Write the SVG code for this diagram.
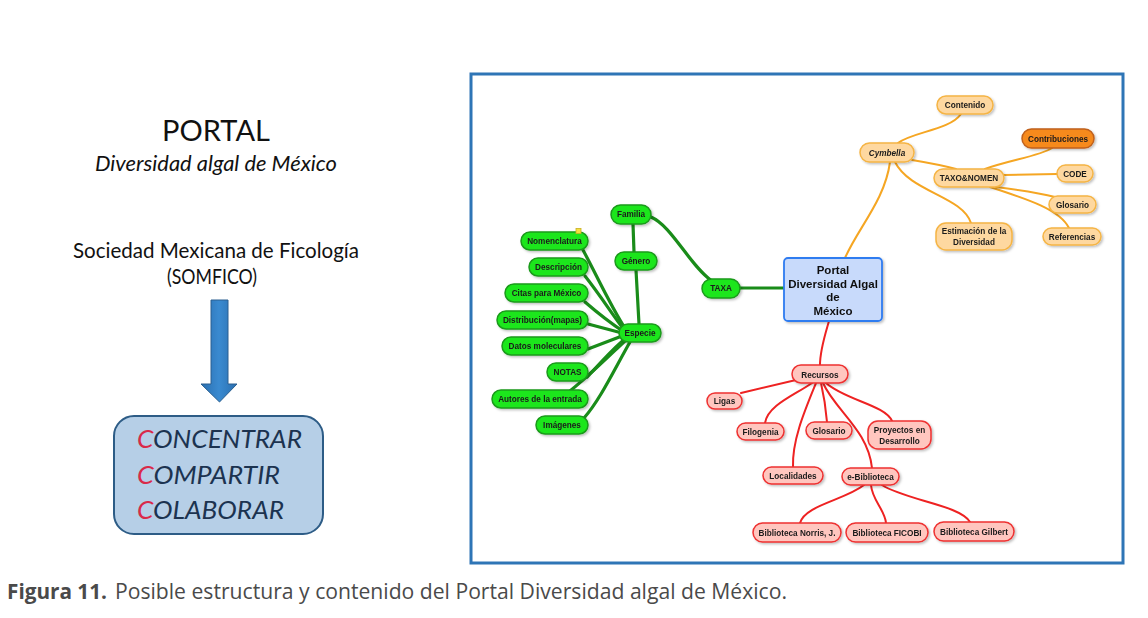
<svg xmlns="http://www.w3.org/2000/svg" width="1148" height="618" viewBox="0 0 1148 618">
<defs>
<filter id="sh" x="-20%" y="-30%" width="140%" height="170%">
<feDropShadow dx="1.5" dy="1.5" stdDeviation="1" flood-color="#000" flood-opacity="0.25"/>
</filter>
<linearGradient id="arrowG" x1="0" y1="0" x2="1" y2="0">
<stop offset="0" stop-color="#2a6fb0"/><stop offset="0.5" stop-color="#3a8ad0"/><stop offset="1" stop-color="#2a6fb0"/>
</linearGradient>
</defs>
<style>
.g rect{fill:#1ee61e;stroke:#1a9a1a;stroke-width:1.5}
.o rect{fill:#fed8a0;stroke:#f5b444;stroke-width:1.5}
.r rect{fill:#ffc6bf;stroke:#ee3030;stroke-width:1.5}
.nt{font-family:"Liberation Sans",Arial,sans-serif;font-weight:bold;font-size:8.2px;fill:#1a1a1a;text-anchor:middle}
.lg{fill:none;stroke:#1a8c1a;stroke-width:3.2;stroke-linecap:round}
.lo{fill:none;stroke:#f5a623;stroke-width:2;stroke-linecap:round}
.lr{fill:none;stroke:#ee2222;stroke-width:2;stroke-linecap:round}
.lt{font-family:Lato,"Liberation Sans",sans-serif;fill:#111;text-anchor:middle}
.cc{font-family:Lato,"Liberation Sans",sans-serif;font-style:italic;font-size:25px;fill:#1c3350}
.red{fill:#d92a4a}
</style>
<rect width="1148" height="618" fill="#fff"/>

<!-- Left column -->
<g id="title">
<text class="lt" x="216" y="141" font-size="28" textLength="108" lengthAdjust="spacingAndGlyphs">PORTAL</text>
<text class="lt" x="216" y="171" font-size="21" font-style="italic" textLength="242" lengthAdjust="spacingAndGlyphs">Diversidad algal de México</text>
<text class="lt" x="216" y="258" font-size="21" textLength="286" lengthAdjust="spacingAndGlyphs">Sociedad Mexicana de Ficología</text>
<text class="lt" x="212" y="284" font-size="21" textLength="90" lengthAdjust="spacingAndGlyphs">(SOMFICO)</text>
</g>
<g id="arrow">
<path d="M211 300 L228 300 L228 384 L237 384 L219.5 402 L201 384 L211 384 Z" fill="url(#arrowG)" stroke="#2a5f90" stroke-width="1"/>
</g>
<g id="box">
<rect x="114" y="416" width="209" height="118" rx="20" fill="#b6cfe7" stroke="#2d5c86" stroke-width="2"/>
<text class="cc" x="137" y="448" textLength="165" lengthAdjust="spacingAndGlyphs"><tspan class="red">C</tspan>ONCENTRAR</text>
<text class="cc" x="137" y="484" textLength="143" lengthAdjust="spacingAndGlyphs"><tspan class="red">C</tspan>OMPARTIR</text>
<text class="cc" x="137" y="519" textLength="147" lengthAdjust="spacingAndGlyphs"><tspan class="red">C</tspan>OLABORAR</text>
</g>

<!-- Frame -->
<rect x="471" y="74" width="652" height="489" fill="none" stroke="#2e75b6" stroke-width="3"/>

<!-- Connectors -->
<g id="connectors">
<path class="lg" d="M583 250 C595 272 610 305 626 330"/>
<path class="lg" d="M585 276 C600 295 612 314 625 331"/>
<path class="lg" d="M585 302 C600 315 612 324 624 332"/>
<path class="lg" d="M588 324 L622 333"/>
<path class="lg" d="M588 349 L622 336"/>
<path class="lg" d="M587 377 C602 362 613 348 625 339"/>
<path class="lg" d="M570 391 C590 375 610 355 626 340"/>
<path class="lg" d="M584 418 C600 400 614 370 630 342"/>
<path class="lg" d="M633 224 L634 252"/>
<path class="lg" d="M636 270 L639 324"/>
<path class="lg" d="M651 217 C672 226 690 266 712 281"/>
<path class="lg" d="M740 288 L784 288"/>

<path class="lo" d="M890 162 C885 200 858 228 845 258"/>
<path class="lo" d="M961 114 C950 130 912 132 898 143"/>
<path class="lo" d="M912 160 C930 163 945 166 956 169"/>
<path class="lo" d="M895 162 C910 192 962 196 971 223"/>
<path class="lo" d="M985 169 C1010 160 1040 156 1052 148"/>
<path class="lo" d="M1004 175 L1057 174"/>
<path class="lo" d="M996 187 C1020 190 1040 193 1055 197"/>
<path class="lo" d="M990 187 C1030 200 1060 210 1069 228"/>

<path class="lr" d="M829 321 C825 335 820 350 820 365"/>
<path class="lr" d="M796 380 L741 393"/>
<path class="lr" d="M812 383 C795 395 768 405 765 423"/>
<path class="lr" d="M816 383 C805 410 792 440 793 467"/>
<path class="lr" d="M821 383 C824 396 826 410 827 422"/>
<path class="lr" d="M823 383 C835 410 868 430 872 468"/>
<path class="lr" d="M826 383 C845 400 885 405 892 421"/>
<path class="lr" d="M864 485 C845 500 805 505 800 523"/>
<path class="lr" d="M871 485 C872 500 885 510 886 523"/>
<path class="lr" d="M882 485 C905 500 960 505 970 522"/>
</g>

<!-- Central -->
<g id="central" filter="url(#sh)">
<rect x="784" y="258" width="98" height="63" rx="4" fill="#c8dafb" stroke="#2f7bf0" stroke-width="1.8"/>
<text font-family="Liberation Sans,Arial,sans-serif" font-weight="bold" font-size="11.5" fill="#111" text-anchor="middle">
<tspan x="833" y="274">Portal</tspan><tspan x="833" y="288">Diversidad Algal</tspan><tspan x="833" y="301">de</tspan><tspan x="833" y="315">México</tspan></text>
</g>

<!-- Green nodes -->
<g id="n-taxa" class="g" filter="url(#sh)"><rect x="702" y="279" width="38" height="19" rx="9.5"/><text class="nt" x="721" y="291">TAXA</text></g>
<g id="n-familia" class="g" filter="url(#sh)"><rect x="611" y="205" width="40" height="19" rx="9.5"/><text class="nt" x="631" y="217">Familia</text></g>
<g id="n-genero" class="g" filter="url(#sh)"><rect x="615" y="252" width="42" height="18" rx="9"/><text class="nt" x="636" y="264">Género</text></g>
<g id="n-especie" class="g" filter="url(#sh)"><rect x="619" y="324" width="42" height="18" rx="9"/><text class="nt" x="640" y="336">Especie</text></g>
<g id="n-nomenclatura" class="g" filter="url(#sh)"><rect x="521" y="232" width="67" height="18" rx="9"/><text class="nt" x="554.5" y="244">Nomenclatura</text></g>
<g id="n-descripcion" class="g" filter="url(#sh)"><rect x="529" y="258" width="59" height="18" rx="9"/><text class="nt" x="558.5" y="270">Descripción</text></g>
<g id="n-citas" class="g" filter="url(#sh)"><rect x="505" y="284" width="83" height="18" rx="9"/><text class="nt" x="546.5" y="296">Citas para México</text></g>
<g id="n-distribucion" class="g" filter="url(#sh)"><rect x="497" y="311" width="91" height="18" rx="9"/><text class="nt" x="542.5" y="323">Distribución(mapas)</text></g>
<g id="n-datos" class="g" filter="url(#sh)"><rect x="502" y="337" width="86" height="18" rx="9"/><text class="nt" x="545" y="349">Datos moleculares</text></g>
<g id="n-notas" class="g" filter="url(#sh)"><rect x="547" y="363" width="41" height="18" rx="9"/><text class="nt" x="567.5" y="375">NOTAS</text></g>
<g id="n-autores" class="g" filter="url(#sh)"><rect x="492" y="390" width="96" height="18" rx="9"/><text class="nt" x="540" y="402">Autores de la entrada</text></g>
<g id="n-imagenes" class="g" filter="url(#sh)"><rect x="536" y="416" width="52" height="18" rx="9"/><text class="nt" x="562" y="428">Imágenes</text></g>
<rect x="576" y="228.5" width="5" height="5" fill="#f3e040" stroke="#c9b020" stroke-width="0.8"/>

<!-- Orange nodes -->
<g id="n-contenido" class="o" filter="url(#sh)"><rect x="937" y="96" width="56" height="18" rx="9"/><text class="nt" x="965" y="108">Contenido</text></g>
<g id="n-cymbella" class="o" filter="url(#sh)"><rect x="860" y="143" width="54" height="19" rx="9.5"/><text class="nt" x="887" y="155.5" font-style="italic" font-size="9">Cymbella</text></g>
<g id="n-contribuciones" filter="url(#sh)"><rect x="1022" y="129" width="72" height="19" rx="9.5" fill="#f68a1e" stroke="#c0601a" stroke-width="1.5"/><text class="nt" x="1058" y="141.5">Contribuciones</text></g>
<g id="n-taxonomen" class="o" filter="url(#sh)"><rect x="934" y="169" width="70" height="18" rx="9"/><text class="nt" x="969" y="181">TAXO&amp;NOMEN</text></g>
<g id="n-code" class="o" filter="url(#sh)"><rect x="1057" y="165" width="36" height="17" rx="8.5"/><text class="nt" x="1075" y="176.5">CODE</text></g>
<g id="n-glosario1" class="o" filter="url(#sh)"><rect x="1049" y="196" width="47" height="17" rx="8.5"/><text class="nt" x="1072.5" y="207.5">Glosario</text></g>
<g id="n-referencias" class="o" filter="url(#sh)"><rect x="1043" y="228" width="58" height="17" rx="8.5"/><text class="nt" x="1072" y="239.5">Referencias</text></g>
<g id="n-estimacion" class="o" filter="url(#sh)"><rect x="936" y="223" width="76" height="27" rx="10"/><text class="nt" x="974" y="234">Estimación de la</text><text class="nt" x="974" y="245">Diversidad</text></g>

<!-- Red nodes -->
<g id="n-recursos" class="r" filter="url(#sh)"><rect x="792" y="365" width="56" height="18" rx="9"/><text class="nt" x="820" y="377.5" font-size="8.8">Recursos</text></g>
<g id="n-ligas" class="r" filter="url(#sh)"><rect x="707" y="393" width="35" height="16" rx="8"/><text class="nt" x="724.5" y="404">Ligas</text></g>
<g id="n-filogenia" class="r" filter="url(#sh)"><rect x="737" y="423" width="47" height="17" rx="8.5"/><text class="nt" x="760.5" y="434.5">Filogenia</text></g>
<g id="n-glosario2" class="r" filter="url(#sh)"><rect x="806" y="422" width="46" height="17" rx="8.5"/><text class="nt" x="829" y="433.5">Glosario</text></g>
<g id="n-proyectos" class="r" filter="url(#sh)"><rect x="868" y="421" width="63" height="28" rx="10"/><text class="nt" x="899.5" y="432.5">Proyectos en</text><text class="nt" x="899.5" y="443.5">Desarrollo</text></g>
<g id="n-localidades" class="r" filter="url(#sh)"><rect x="763" y="467" width="60" height="17" rx="8.5"/><text class="nt" x="793" y="478.5">Localidades</text></g>
<g id="n-ebiblioteca" class="r" filter="url(#sh)"><rect x="842" y="468" width="57" height="17" rx="8.5"/><text class="nt" x="870.5" y="479.5">e-Biblioteca</text></g>
<g id="n-norris" class="r" filter="url(#sh)"><rect x="753" y="523" width="88" height="19" rx="9.5"/><text class="nt" x="797" y="535.5">Biblioteca Norris, J.</text></g>
<g id="n-ficobi" class="r" filter="url(#sh)"><rect x="846" y="523" width="82" height="19" rx="9.5"/><text class="nt" x="887" y="535.5">Biblioteca FICOBI</text></g>
<g id="n-gilbert" class="r" filter="url(#sh)"><rect x="934" y="522" width="80" height="19" rx="9.5"/><text class="nt" x="974" y="534.5">Biblioteca Gilbert</text></g>

<!-- Caption -->
<g id="caption" font-family="'Open Sans','Noto Sans',sans-serif" font-size="21" fill="#4a4a4a">
<text x="7" y="599" font-weight="bold" textLength="100" lengthAdjust="spacingAndGlyphs">Figura 11.</text>
<text x="115" y="599" textLength="672" lengthAdjust="spacingAndGlyphs">Posible estructura y contenido del Portal Diversidad algal de México.</text>
</g>
</svg>
